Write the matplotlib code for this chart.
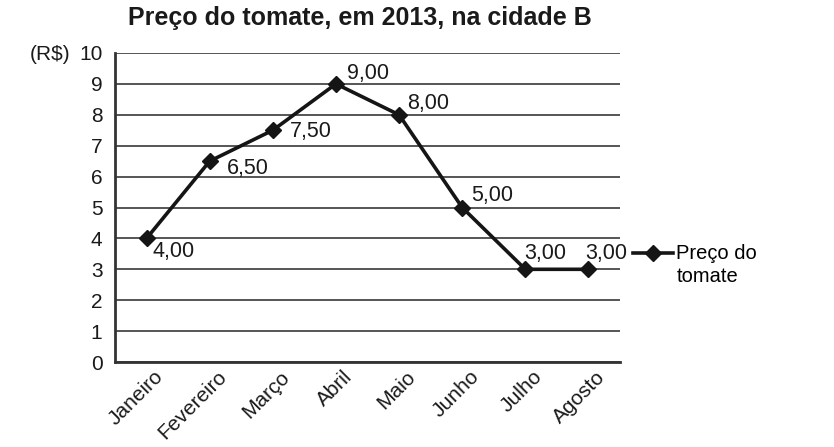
import matplotlib
matplotlib.use("Agg")
import matplotlib.pyplot as plt
from matplotlib.transforms import ScaledTranslation

plt.rcParams['font.family'] = ['Liberation Sans', 'DejaVu Sans']

# dados
meses = ["Janeiro", "Fevereiro", "Março", "Abril", "Maio", "Junho", "Julho", "Agosto"]
precos = [4.00, 6.50, 7.50, 9.00, 8.00, 5.00, 3.00, 3.00]
rotulos = ["4,00", "6,50", "7,50", "9,00", "8,00", "5,00", "3,00", "3,00"]
# deslocamento dos rótulos (px)
desloc = [(6, -13), (17, -7), (17, -1), (11, 10), (8, 11), (9, 12), (-1, 16), (-3, 16)]
y_ticks = list(range(0, 11))

fig = plt.figure(figsize=(8.34, 4.47), dpi=100)
ax = fig.add_axes([115/834, 1-362/447, 505/834, 309/447])

x = list(range(len(meses)))
ax.plot(x, precos, color="#151515", lw=2.6, marker="D", ms=8,
        mfc="#151515", mec="#151515", label="Preço do\ntomate", zorder=3)

for xi, yi, lab, (dx, dy) in zip(x, precos, rotulos, desloc):
    ax.annotate(lab, (xi, yi), xytext=(dx, dy), textcoords="offset pixels",
                ha="left", va="center", fontsize=15.5, color="#1a1a1a")

ax.set_xlim(-0.5, len(meses) - 0.5)
ax.set_ylim(0, 10)
ax.set_yticks(y_ticks)
ax.set_xticks(x)
ax.set_xticklabels(meses, rotation=45, ha="right", rotation_mode="anchor")
ax.tick_params(length=0, labelsize=15, colors="#1a1a1a")
ax.tick_params(axis="y", pad=9)
ax.tick_params(axis="x", pad=8)
# empurra os rótulos do eixo x um pouco para cima e para a direita
for lab in ax.get_xticklabels():
    lab.set_transform(lab.get_transform() + ScaledTranslation(0.07, 0.06, fig.dpi_scale_trans))

ax.grid(axis="y", color="#555555", lw=1.4)
ax.set_axisbelow(True)
for s in ["top", "right"]:
    ax.spines[s].set_visible(False)
ax.spines["left"].set_color("#333333")
ax.spines["left"].set_linewidth(2)
ax.spines["bottom"].set_color("#333333")
ax.spines["bottom"].set_linewidth(2)

fig.text(360/834, 1-18/447, "Preço do tomate, em 2013, na cidade B",
         ha="center", va="center", fontsize=18, fontweight="bold", color="#1a1a1a")
fig.text(30/834, 1-55/447, "(R$)", ha="left", va="center", fontsize=15, color="#1a1a1a")

leg = ax.legend(loc="center left", bbox_to_anchor=(633/834, 1-253/447), bbox_transform=fig.transFigure,
                frameon=False, fontsize=14.5, handlelength=2.0, handletextpad=0.15,
                borderpad=0, borderaxespad=0)
for t in leg.get_texts():
    t.set_linespacing(1.25)
    t.set_transform(t.get_transform() + ScaledTranslation(0, -0.12, fig.dpi_scale_trans))

fig.savefig("out.png", dpi=100)
